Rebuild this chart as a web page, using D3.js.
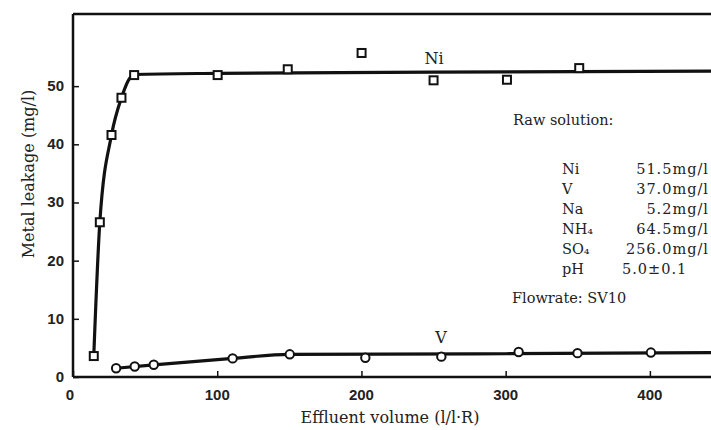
<!DOCTYPE html>
<html>
<head>
    <title>Metal leakage vs effluent volume</title>
    <script src="https://d3js.org/d3.v7.min.js"></script>
    <style>
        body { margin: 0; background: #fff; }
        .fit { fill: none; stroke: #111; stroke-width: 3.2; stroke-linejoin: round; }
        .frame { stroke: #111; stroke-width: 2.5; }
        .tick-label { font-family: "Liberation Sans", Arial, sans-serif; font-weight: bold; font-size: 15px; fill: #222; }
        .serif { font-family: "DejaVu Serif", serif; fill: #222; }
    </style>
</head>
<body>
    <svg width="711" height="430"></svg>
    <script>
        // Ni (squares) measured points
        const niX = [14.4, 18.6, 26.7, 33.6, 42.4, 100.3, 148.9, 200.1, 250, 300.9, 351];
        const niY = [3.6, 26.6, 41.6, 48.0, 51.9, 51.9, 52.9, 55.7, 51.0, 51.1, 53.1];
        // Ni smooth curve as drawn
        const niFitX = [14.4, 18.6, 26.7, 33.6, 42.4, 100, 250, 450];
        const niFitY = [3.6, 26.6, 41.6, 48.0, 52.0, 52.2, 52.4, 52.6];

        // V (circles) measured points
        const vX = [29.9, 42.8, 56, 110.7, 150.3, 202.7, 255.4, 309, 349.8, 400.7];
        const vY = [1.5, 1.8, 2.1, 3.2, 3.9, 3.3, 3.5, 4.3, 4.1, 4.2];
        const vFitX = [29.9, 56, 110.7, 150, 300, 450];
        const vFitY = [1.5, 2.1, 3.2, 3.9, 4.0, 4.2];

        const xTicks = [0, 100, 200, 300, 400];
        const yTicks = [0, 10, 20, 30, 40, 50];

        const rawElems = ["Ni", "V", "Na", "NH\u2084", "SO\u2084", "pH"];
        const rawValues = ["51.5mg/l", "37.0mg/l", "5.2mg/l", "64.5mg/l", "256.0mg/l", "5.0\u00b10.1"];

        const svg = d3.select("svg");

        const x = d3.scaleLinear().domain([0, 450]).range([73, 722]);
        const y = d3.scaleLinear().domain([0, 62.4]).range([377, 14]);

        // frame: left, bottom, top
        svg.append("line").attr("class", "frame")
            .attr("x1", x(0)).attr("x2", x(0)).attr("y1", y(62.4)).attr("y2", y(0));
        svg.append("line").attr("class", "frame")
            .attr("x1", x(0)).attr("x2", 711).attr("y1", y(0)).attr("y2", y(0));
        svg.append("line").attr("class", "frame")
            .attr("x1", x(0)).attr("x2", 711).attr("y1", y(62.4)).attr("y2", y(62.4));

        // inward ticks
        const xAxis = d3.axisTop(x).tickValues(xTicks).tickSize(6).tickFormat("");
        svg.append("g").attr("transform", "translate(0," + y(0) + ")").call(xAxis)
            .call(g => g.select(".domain").remove())
            .selectAll("line").attr("stroke", "#111").attr("stroke-width", 1.5);
        const yAxis = d3.axisRight(y).tickValues(yTicks).tickSize(6).tickFormat("");
        svg.append("g").attr("transform", "translate(" + x(0) + ",0)").call(yAxis)
            .call(g => g.select(".domain").remove())
            .selectAll("line").attr("stroke", "#111").attr("stroke-width", 1.5);

        svg.selectAll(".xl").data(xTicks).enter().append("text")
            .attr("class", "tick-label")
            .attr("x", d => x(d) - (d === 0 ? 3 : 0))
            .attr("y", 400)
            .attr("text-anchor", "middle")
            .text(d => d);
        svg.selectAll(".yl").data(yTicks).enter().append("text")
            .attr("class", "tick-label")
            .attr("x", 64)
            .attr("y", d => y(d) + 5)
            .attr("text-anchor", "end")
            .text(d => d);

        // axis titles
        svg.append("text").attr("class", "serif")
            .attr("transform", "translate(34,174) rotate(-90)")
            .attr("text-anchor", "middle")
            .style("font-size", "16px")
            .text("Metal leakage (mg/l)");
        svg.append("text").attr("class", "serif")
            .attr("x", 390).attr("y", 423)
            .attr("text-anchor", "middle")
            .style("font-size", "16px")
            .text("Effluent volume (l/l\u00b7R)");

        // fitted curves
        const line = d3.line().x(d => x(d[0])).y(d => y(d[1])).curve(d3.curveMonotoneX);
        svg.append("path").attr("class", "fit").attr("d", line(d3.zip(niFitX, niFitY)));
        svg.append("path").attr("class", "fit").attr("d", line(d3.zip(vFitX, vFitY)));

        // markers
        svg.selectAll(".sq").data(d3.zip(niX, niY)).enter().append("rect")
            .attr("x", d => x(d[0]) - 4).attr("y", d => y(d[1]) - 4)
            .attr("width", 8).attr("height", 8)
            .attr("fill", "#fff").attr("stroke", "#111").attr("stroke-width", 2);
        svg.selectAll(".ci").data(d3.zip(vX, vY)).enter().append("circle")
            .attr("cx", d => x(d[0])).attr("cy", d => y(d[1]))
            .attr("r", 4.2)
            .attr("fill", "#fff").attr("stroke", "#111").attr("stroke-width", 2);

        // series labels
        svg.append("text").attr("class", "serif").style("font-size", "16px")
            .attr("x", 434).attr("y", 64).attr("text-anchor", "middle").text("Ni");
        svg.append("text").attr("class", "serif").style("font-size", "16px")
            .attr("x", 441).attr("y", 343).attr("text-anchor", "middle").text("V");

        // raw solution note
        svg.append("text").attr("class", "serif").style("font-size", "14.5px")
            .attr("x", 513).attr("y", 125).text("Raw solution:");
        const rowY = d3.scaleLinear().domain([0, 5]).range([174, 274]);
        svg.selectAll(".el").data(rawElems).enter().append("text")
            .attr("class", "serif").style("font-size", "14.5px")
            .attr("x", 562).attr("y", (d, i) => rowY(i)).text(d => d);
        svg.selectAll(".val").data(rawValues).enter().append("text")
            .attr("class", "serif").style("font-size", "14.5px")
            .style("letter-spacing", "1px")
            .attr("x", (d, i) => i === 5 ? 622 : 709)
            .attr("text-anchor", (d, i) => i === 5 ? "start" : "end")
            .attr("y", (d, i) => rowY(i)).text(d => d);
        svg.append("text").attr("class", "serif").style("font-size", "14.5px")
            .attr("x", 512).attr("y", 303).text("Flowrate: SV10");
    </script>
</body>
</html>
